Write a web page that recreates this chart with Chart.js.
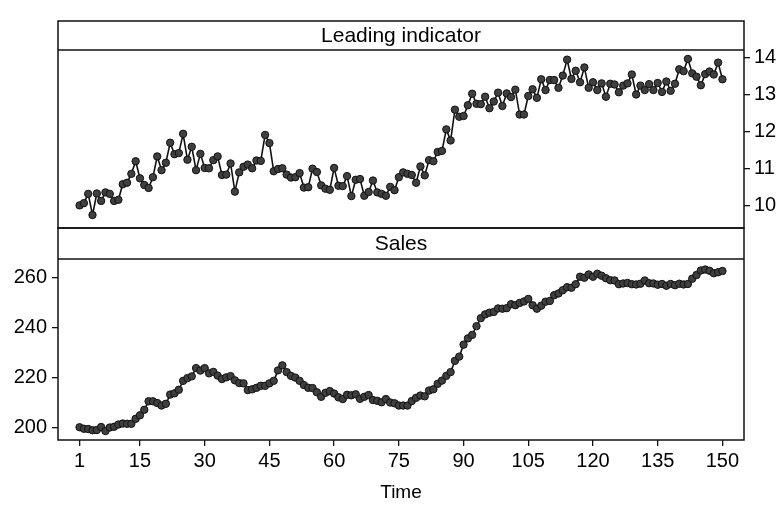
<!DOCTYPE html>
<html>
<head>
<meta charset="utf-8">
<script src="https://cdn.jsdelivr.net/npm/chart.js@4.4.1/dist/chart.umd.min.js"></script>
<style>
  html, body { margin: 0; padding: 0; background: #ffffff; }
  #wrap { position: relative; width: 782px; height: 507px; overflow: hidden; }
  #wrap canvas { position: absolute; left: 0; top: 0; }
</style>
</head>
<body>
<div id="wrap">
  <canvas id="salesChart" width="782" height="507"></canvas>
  <canvas id="leadChart" width="782" height="507"></canvas>
</div>
<script>
// Monthly series, observations 1..150
const leadIndicator = [
  10.01, 10.07, 10.32, 9.75, 10.33, 10.13, 10.36, 10.32, 10.13, 10.16,
  10.58, 10.62, 10.86, 11.20, 10.74, 10.56, 10.48, 10.77, 11.33, 10.96,
  11.16, 11.70, 11.39, 11.42, 11.94, 11.24, 11.59, 10.96, 11.40, 11.02,
  11.01, 11.23, 11.33, 10.83, 10.84, 11.14, 10.38, 10.90, 11.05, 11.11,
  11.01, 11.22, 11.21, 11.91, 11.69, 10.93, 10.99, 11.01, 10.84, 10.76,
  10.77, 10.88, 10.49, 10.50, 11.00, 10.91, 10.55, 10.46, 10.43, 11.02,
  10.54, 10.53, 10.80, 10.26, 10.70, 10.72, 10.27, 10.37, 10.68, 10.36,
  10.32, 10.27, 10.51, 10.42, 10.77, 10.90, 10.86, 10.83, 10.62, 11.06,
  10.82, 11.23, 11.20, 11.45, 11.48, 12.06, 11.76, 12.59, 12.40, 12.42,
  12.71, 13.02, 12.75, 12.74, 12.94, 12.63, 12.81, 13.05, 12.69, 13.03,
  12.93, 13.13, 12.46, 12.46, 12.96, 13.14, 12.91, 13.41, 13.12, 13.39,
  13.39, 13.18, 13.51, 13.94, 13.42, 13.64, 13.33, 13.73, 13.18, 13.33,
  13.12, 13.30, 12.94, 13.29, 13.27, 13.06, 13.24, 13.30, 13.54, 13.00,
  13.24, 13.12, 13.28, 13.12, 13.31, 13.07, 13.35, 13.10, 13.29, 13.68,
  13.63, 13.96, 13.57, 13.48, 13.25, 13.55, 13.62, 13.54, 13.86, 13.41
];

const sales = [
  200.1, 199.5, 199.4, 198.9, 199.0, 200.2, 198.6, 200.0, 200.3, 201.2,
  201.6, 201.5, 201.5, 203.5, 204.9, 207.1, 210.5, 210.5, 209.8, 208.8,
  209.5, 213.2, 213.7, 215.1, 218.7, 219.8, 220.5, 223.8, 222.8, 223.8,
  221.7, 222.3, 220.8, 219.4, 220.1, 220.6, 218.9, 217.8, 217.7, 215.0,
  215.3, 215.9, 216.7, 216.7, 217.7, 218.7, 222.9, 224.9, 222.2, 220.7,
  220.0, 218.7, 217.0, 215.9, 215.8, 214.1, 212.3, 213.9, 214.6, 213.6,
  212.1, 211.4, 213.1, 212.9, 213.3, 211.5, 212.3, 213.0, 211.0, 210.7,
  210.1, 211.4, 210.0, 209.7, 208.8, 208.8, 208.8, 210.6, 211.9, 212.8,
  212.5, 214.8, 215.3, 217.5, 218.8, 220.7, 222.2, 226.7, 228.4, 233.2,
  235.7, 237.1, 240.6, 243.8, 245.3, 246.0, 246.3, 247.7, 247.6, 247.8,
  249.4, 249.0, 249.9, 250.5, 251.5, 249.0, 247.6, 248.8, 250.4, 250.7,
  253.0, 253.7, 255.0, 256.2, 256.0, 257.4, 260.4, 260.0, 261.3, 260.4,
  261.6, 260.8, 259.8, 259.0, 258.9, 257.4, 257.7, 257.9, 257.4, 257.3,
  257.6, 258.9, 257.8, 257.7, 257.2, 257.5, 256.8, 257.5, 257.0, 257.6,
  257.3, 257.5, 259.6, 261.1, 262.9, 263.3, 262.8, 261.8, 262.2, 262.7
];

const timeTicks = [1, 15, 30, 45, 60, 75, 90, 105, 120, 135, 150];
const leadTicks = [10, 11, 12, 13, 14];
const salesTicks = [200, 220, 240, 260];
const leadTitle = 'Leading indicator';
const salesTitle = 'Sales';
const xTitle = 'Time';

// time index 1..150 for both series
const timeIndex = [];
for (let i = 1; i <= sales.length; i++) timeIndex.push(i);

const FONT = '"Liberation Sans", Arial, Helvetica, sans-serif';
const INK = '#111111';

// Lattice-style panel: strip box with the panel name above a framed plot region
const panelStrip = {
  id: 'panelStrip',
  afterDraw(chart, args, opts) {
    const { ctx, chartArea: { left, right, top, bottom } } = chart;
    ctx.save();
    ctx.strokeStyle = INK;
    ctx.lineWidth = 1.5;
    ctx.strokeRect(left, opts.stripTop, right - left, bottom - opts.stripTop);
    ctx.beginPath();
    ctx.moveTo(left, top);
    ctx.lineTo(right, top);
    ctx.stroke();
    ctx.fillStyle = '#000';
    ctx.font = '21px ' + FONT;
    ctx.textAlign = 'center';
    ctx.textBaseline = 'middle';
    ctx.fillText(opts.title, (left + right) / 2, (opts.stripTop + top) / 2 + 1);
    ctx.restore();
  }
};

const seriesStyle = {
  borderColor: INK,
  borderWidth: 1.6,
  pointRadius: 3.7,
  pointBackgroundColor: '#3f3f3f',
  pointBorderColor: '#111111',
  pointBorderWidth: 1,
  tension: 0,
  fill: false
};

const tickGrid = { display: true, drawOnChartArea: false, drawTicks: true, tickLength: 6, color: INK, lineWidth: 1.3 };

function points(values) {
  return timeIndex.map((t, i) => ({ x: t, y: values[i] }));
}

const xRange = { min: -4, max: 155 };

// Upper panel: leading indicator, axis on the right
new Chart(document.getElementById('leadChart'), {
  type: 'line',
  data: { datasets: [Object.assign({ data: points(leadIndicator) }, seriesStyle)] },
  options: {
    responsive: false,
    animation: false,
    devicePixelRatio: 1,
    layout: { padding: { left: 58, top: 50, right: 0, bottom: 279 } },
    plugins: {
      legend: { display: false },
      tooltip: { enabled: false },
      panelStrip: { title: leadTitle, stripTop: 21 }
    },
    scales: {
      x: { type: 'linear', min: xRange.min, max: xRange.max, display: false },
      y: {
        type: 'linear', position: 'right', min: 9.4, max: 14.2,
        afterBuildTicks: s => { s.ticks = leadTicks.map(v => ({ value: v })); },
        afterFit: s => { s.width = 38; },
        grid: tickGrid,
        border: { display: false },
        ticks: { color: '#000', padding: 4, font: { family: FONT, size: 20 }, callback: v => String(v) }
      }
    }
  },
  plugins: [panelStrip]
});

// Lower panel: sales, axis on the left, shared time axis below
new Chart(document.getElementById('salesChart'), {
  type: 'line',
  data: { datasets: [Object.assign({ data: points(sales) }, seriesStyle)] },
  options: {
    responsive: false,
    animation: false,
    devicePixelRatio: 1,
    layout: { padding: { left: 0, top: 259, right: 38, bottom: 0 } },
    plugins: {
      legend: { display: false },
      tooltip: { enabled: false },
      panelStrip: { title: salesTitle, stripTop: 228 }
    },
    scales: {
      x: {
        type: 'linear', min: xRange.min, max: xRange.max, position: 'bottom',
        afterBuildTicks: s => { s.ticks = timeTicks.map(v => ({ value: v })); },
        afterFit: s => { s.height = 67; },
        grid: tickGrid,
        border: { display: false },
        ticks: { color: '#000', padding: 3, autoSkip: false, maxRotation: 0, font: { family: FONT, size: 20 }, callback: v => String(v) },
        title: { display: true, text: xTitle, color: '#000', font: { family: FONT, size: 19 }, padding: { top: 0, bottom: 3 } }
      },
      y: {
        type: 'linear', position: 'left', min: 195, max: 267.5,
        afterBuildTicks: s => { s.ticks = salesTicks.map(v => ({ value: v })); },
        afterFit: s => { s.width = 58; },
        grid: tickGrid,
        border: { display: false },
        ticks: { color: '#000', padding: 5, font: { family: FONT, size: 20 }, callback: v => String(v) }
      }
    }
  },
  plugins: [panelStrip]
});
</script>
</body>
</html>
